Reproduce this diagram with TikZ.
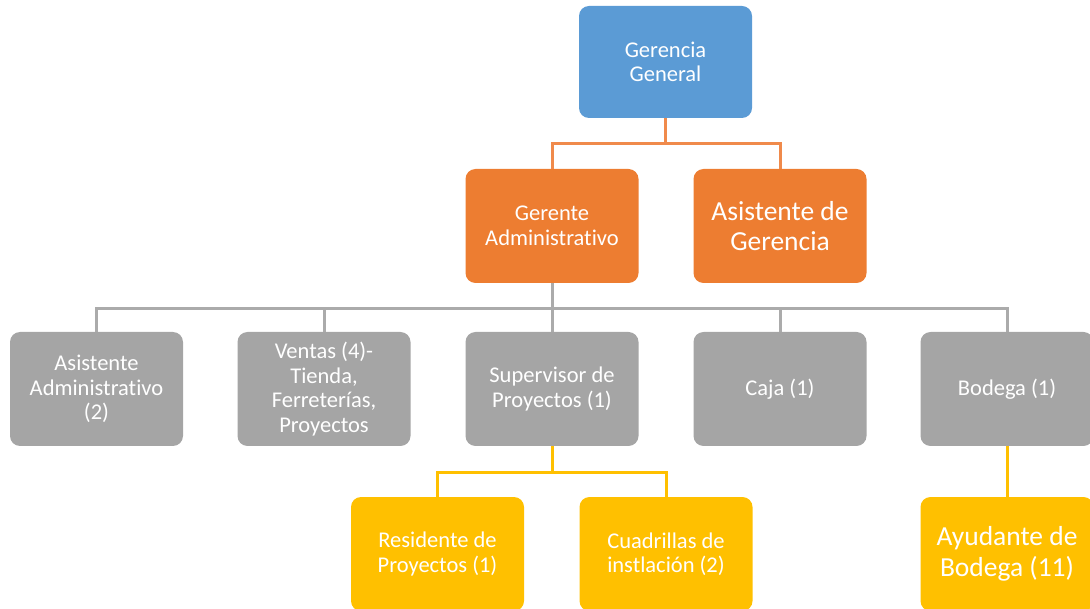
\documentclass[tikz,border=0pt]{standalone}
\usepackage{fontspec}
\setmainfont{Carlito}[RawFeature=-liga]
\definecolor{cblue}{HTML}{5B9BD5}
\definecolor{corange}{HTML}{ED7D31}
\definecolor{cgray}{HTML}{A5A5A5}
\definecolor{cyellow}{HTML}{FFC000}
\definecolor{lorange}{HTML}{F08A4B}
\definecolor{lgray}{HTML}{ABABAB}
\tikzset{
  box/.style={rounded corners=10pt, minimum width=173pt, minimum height=114pt,
    align=center, text=white, inner sep=0pt, font=\fontsize{22.5}{24.5}\selectfont},
  big/.style={font=\fontsize{27.5}{30.5}\selectfont},
  bluebox/.style={box, fill=cblue},
  orangebox/.style={box, fill=corange},
  graybox/.style={box, fill=cgray},
  yellowbox/.style={box, fill=cyellow},
  oline/.style={draw=lorange, line width=3pt},
  gline/.style={draw=lgray, line width=3pt},
  yline/.style={draw=cyellow, line width=3pt},
}
\begin{document}
\begin{tikzpicture}[x=1pt,y=-1pt]
\useasboundingbox (0,0) rectangle (1090,609);
\node[bluebox, minimum height=112pt] (gg) at (665.5,62) {Gerencia\\General};
\node[orangebox] (ga) at (552,226) {Gerente\\Administrativo};
\node[orangebox, big] (ag) at (780,226) {Asistente de\\Gerencia};
\node[graybox] (aa) at (96.5,389) {Asistente\\Administrativo\\(2)};
\node[graybox] (ve) at (324,389) {Ventas (4)-\\Tienda,\\Ferreterías,\\Proyectos};
\node[graybox] (sp) at (552,389) {Supervisor de\\Proyectos (1)};
\node[graybox] (ca) at (780,389) {Caja (1)};
\node[graybox] (bo) at (1007,389) {Bodega (1)};
\node[yellowbox] (rp) at (437.5,554) {Residente de\\Proyectos (1)};
\node[yellowbox] (cu) at (666,554) {Cuadrillas de\\instlación (2)};
\node[yellowbox, big] (ay) at (1007,554) {Ayudante de\\Bodega (11)};
\draw[oline] (gg.south) -- ++(0,25) -| (ga.north);
\draw[oline] (gg.south) -- ++(0,25) -| (ag.north);
\foreach \t in {aa,ve,sp,ca,bo}
  \draw[gline] (ga.south) -- ++(0,25) -| (\t.north);
\draw[yline] (sp.south) -- ++(0,26) -| (rp.north);
\draw[yline] (sp.south) -- ++(0,26) -| (cu.north);
\draw[yline] (bo.south) -- (ay.north);
\end{tikzpicture}
\end{document}
